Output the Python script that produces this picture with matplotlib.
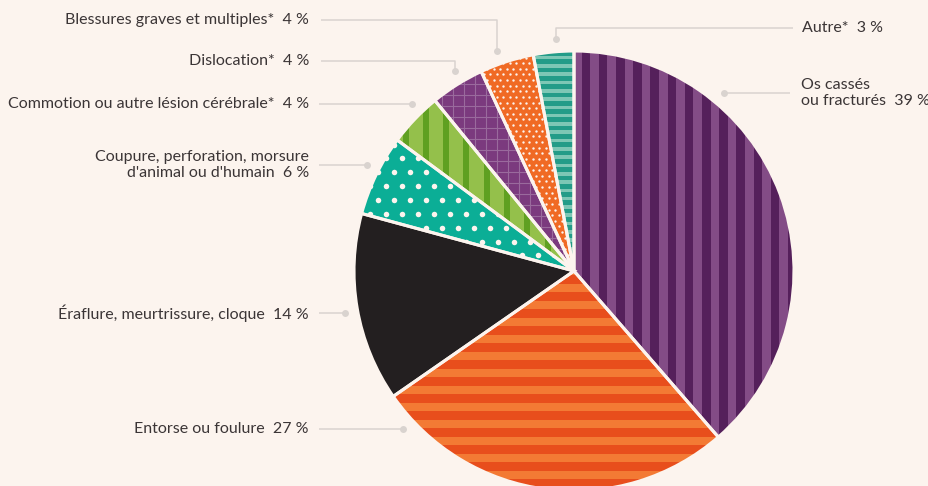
import matplotlib
matplotlib.use("Agg")
import matplotlib.pyplot as plt
from matplotlib.patches import Rectangle
from matplotlib.collections import PatchCollection
import numpy as np

# ---------------- data ----------------
categories = [
    "Os cassés\nou fracturés",
    "Entorse ou foulure",
    "Éraflure, meurtrissure, cloque",
    "Coupure, perforation, morsure\nd'animal ou d'humain",
    "Commotion ou autre lésion cérébrale*",
    "Dislocation*",
    "Blessures graves et multiples*",
    "Autre*",
]
values = [39, 27, 14, 6, 4, 4, 4, 3]
pct_labels = ["39 %", "27 %", "14 %", "6 %", "4 %", "4 %", "4 %", "3 %"]

# ---------------- layout (pixel space) ----------------
W, H = 929, 486
BG = "#fcf4ee"
CX, CY, R = 574, 271, 220          # pie centre / radius (pixels, y down)
RA = 233                            # radius of leader dots
# label text anchor: (x, y, side)   side 'L' => right-aligned text left of pie
label_pos = [
    (801, 93, "R"),
    (309, 429, "L"),
    (309, 313, "L"),
    (309, 165, "L"),
    (309, 104, "L"),
    (309, 61, "L"),
    (309, 20, "L"),
    (802, 28, "R"),
]
# elbow anchors: x of the dot when the leader bends down, else None
elbow_x = [None, None, None, None, None, 455, 497, 556]
line_start = [790, 319, 319, 319, 319, 321, 321, 793]

TEXT = "#3b3536"
LEAD = "#d9d3cf"

def Y(p):
    return H - p

fig = plt.figure(figsize=(W / 100, H / 100), dpi=100, facecolor=BG)
ax = fig.add_axes([0, 0, 1, 1])
ax.set_facecolor(BG)

base_colors = ["#834c86", "#f37a34", "#231f20", "#0bae96",
               "#94c04b", "#7b3a7e", "#f06a24", "#239c88"]

wedges, _ = ax.pie(values, startangle=90, counterclock=False,
                   center=(CX, Y(CY)), radius=R, colors=base_colors,
                   wedgeprops=dict(linewidth=0), frame=True)

def vstripes(w, color, width, period, x0=0):
    rects = [Rectangle((x, Y(CY) - R - 5), width, 2 * R + 10)
             for x in np.arange(CX - R - period + x0, CX + R + period, period)]
    pc = PatchCollection(rects, facecolor=color, edgecolor="none", zorder=3)
    ax.add_collection(pc)
    pc.set_clip_path(w)

def hstripes(w, color, width, period, y0=0):
    rects = [Rectangle((CX - R - 5, y), 2 * R + 10, width)
             for y in np.arange(Y(CY) - R - period + y0, Y(CY) + R + period, period)]
    pc = PatchCollection(rects, facecolor=color, edgecolor="none", zorder=3)
    ax.add_collection(pc)
    pc.set_clip_path(w)

def dots(w, color, diam, spacing):
    xs, ys = [], []
    for j, y in enumerate(np.arange(Y(CY) - R, Y(CY) + R, spacing * 0.866)):
        off = (spacing / 2) if j % 2 else 0
        for x in np.arange(CX - R + off, CX + R, spacing):
            xs.append(x)
            ys.append(y)
    sc = ax.scatter(xs, ys, s=(diam * 0.72) ** 2, color=color, linewidths=0, zorder=3)
    sc.set_clip_path(w)

def grid(w, color, spacing, lw):
    for x in np.arange(CX - R, CX + R, spacing):
        l = ax.plot([x, x], [Y(CY) - R, Y(CY) + R], color=color, lw=lw, zorder=3)[0]
        l.set_clip_path(w)
    for y in np.arange(Y(CY) - R, Y(CY) + R, spacing):
        l = ax.plot([CX - R, CX + R], [y, y], color=color, lw=lw, zorder=3)[0]
        l.set_clip_path(w)

vstripes(wedges[0], "#55205b", 8.6, 17.2, 4)
hstripes(wedges[1], "#e84e1c", 8.5, 17.0, 3)
dots(wedges[3], BG, 5.5, 16)
vstripes(wedges[4], "#5fa021", 6, 20.3, 8)
grid(wedges[5], "#9a6a9d", 11, 0.8)
dots(wedges[6], BG, 2.4, 6.5)
hstripes(wedges[7], "#7dc7b5", 3.6, 8.3)

# separators on top
ax.pie(values, startangle=90, counterclock=False, center=(CX, Y(CY)), radius=R,
       colors=["none"] * len(values), frame=True,
       wedgeprops=dict(linewidth=2.2, edgecolor=BG, zorder=10, fill=False))

# labels and leader lines
for i, (cat, pct) in enumerate(zip(categories, pct_labels)):
    lx, ly, side = label_pos[i]
    if elbow_x[i] is not None:
        ax_x = elbow_x[i]
        ax_y = CY - np.sqrt(RA ** 2 - (ax_x - CX) ** 2)
    else:
        ax_y = ly
        dx = np.sqrt(RA ** 2 - (ly - CY) ** 2)
        ax_x = CX - dx if side == "L" else CX + dx
    xs = [line_start[i], ax_x, ax_x]
    ys = [ly, ly, ax_y]
    ax.plot(xs, [Y(v) for v in ys], color=LEAD, lw=1.1, zorder=1,
            solid_capstyle="butt")
    ax.plot([ax_x], [Y(ax_y)], "o", color=LEAD, ms=5, mew=0, zorder=1)
    if "\n" in cat:
        first, second = cat.split("\n")
        txt = first + "\n" + second + "  " + pct
    else:
        txt = cat + "  " + pct
    ax.text(lx, Y(ly), txt, ha="right" if side == "L" else "left",
            va="center", fontsize=11.5, color=TEXT, family="Lato",
            fontweight="normal", linespacing=1.1,
            multialignment="right" if side == "L" else "left")

ax.set_xlim(0, W)
ax.set_ylim(0, H)
ax.set_aspect("equal", adjustable="box")
ax.axis("off")
fig.savefig("out.png", dpi=100, facecolor=BG)
